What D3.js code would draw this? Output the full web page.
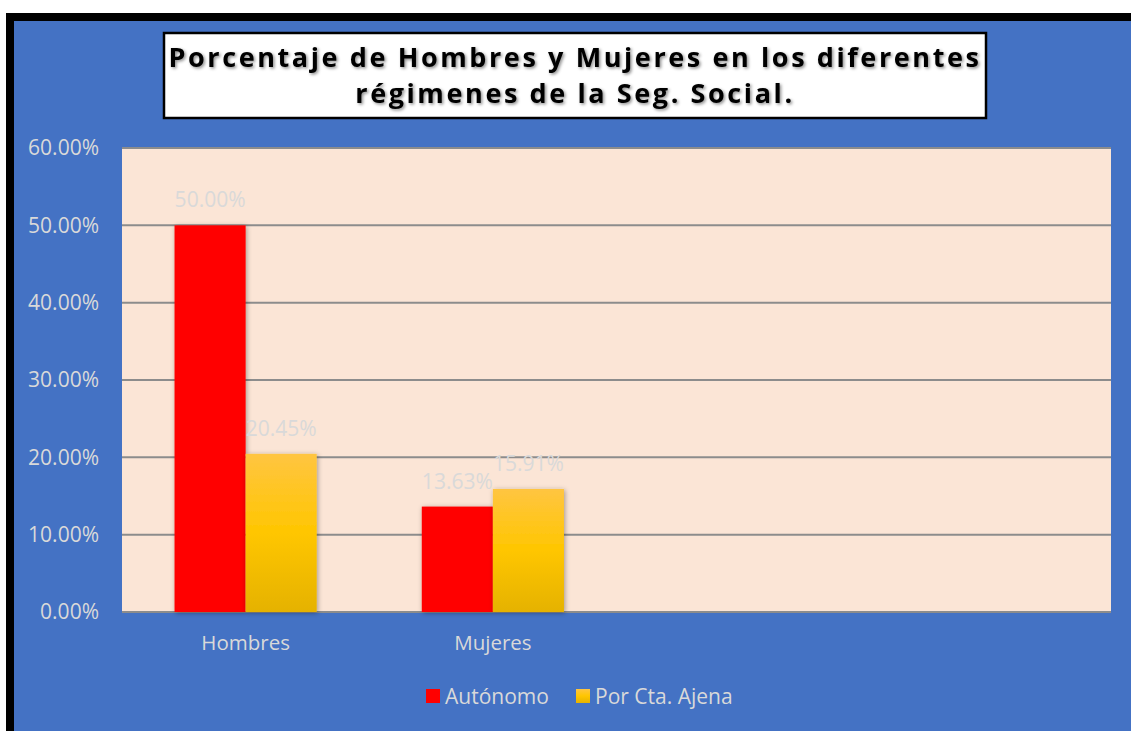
<!DOCTYPE html>
<html>
<head>
<meta charset="utf-8">
<script src="https://cdn.jsdelivr.net/npm/d3@7"></script>
<style>
  body { margin: 0; background: #fff; }
  svg { display: block; font-family: "Open Sans", sans-serif; }
</style>
</head>
<body>
<div id="chart"></div>
<script>
// data
var categories = ['Hombres', 'Mujeres', '', ' '];
var seriesNames = ['Autónomo', 'Por Cta. Ajena'];
var autonomo = [0.50, 0.1363, null, null];
var porCtaAjena = [0.2045, 0.1591, null, null];
var yTicks = [0, 0.1, 0.2, 0.3, 0.4, 0.5, 0.6];
var titleLines = ['Porcentaje de Hombres y Mujeres en los diferentes', 'régimenes de la Seg. Social.'];

var width = 1131, height = 731;
var plot = { left: 122, right: 1111, top: 148, bottom: 612 };
var textColor = '#d9d9d9';

var svg = d3.select('#chart').append('svg')
    .attr('width', width)
    .attr('height', height);

var defs = svg.append('defs');
var grad = defs.append('linearGradient')
    .attr('id', 'goldGrad')
    .attr('x1', 0).attr('y1', 0).attr('x2', 0).attr('y2', 1);
grad.append('stop').attr('offset', '0%').attr('stop-color', '#ffc541');
grad.append('stop').attr('offset', '50%').attr('stop-color', '#ffc600');
grad.append('stop').attr('offset', '100%').attr('stop-color', '#e5b200');

var shadow = defs.append('filter').attr('id', 'barShadow')
    .attr('x', '-20%').attr('y', '-10%').attr('width', '140%').attr('height', '120%');
shadow.append('feDropShadow')
    .attr('dx', 1).attr('dy', 1).attr('stdDeviation', 2.5)
    .attr('flood-color', '#000').attr('flood-opacity', 0.35);

var titleShadow = defs.append('filter').attr('id', 'textShadow')
    .attr('x', '-5%').attr('y', '-20%').attr('width', '110%').attr('height', '140%');
titleShadow.append('feDropShadow')
    .attr('dx', 1.5).attr('dy', 1.5).attr('stdDeviation', 1.5)
    .attr('flood-color', '#000').attr('flood-opacity', 0.45);

// outer frame
svg.append('rect')
    .attr('x', 6).attr('y', 13)
    .attr('width', width - 6).attr('height', height - 13)
    .attr('fill', '#000');
svg.append('rect')
    .attr('x', 14).attr('y', 21)
    .attr('width', width - 14).attr('height', height - 21)
    .attr('fill', '#4472c4');

// title box
svg.append('rect')
    .attr('x', 164).attr('y', 33)
    .attr('width', 822).attr('height', 85)
    .attr('fill', '#fff')
    .attr('stroke', '#000')
    .attr('stroke-width', 2.5);

svg.append('g')
    .selectAll('text')
    .data(titleLines)
    .enter()
    .append('text')
    .attr('x', 575)
    .attr('y', function(d, i) { return 67 + i * 36; })
    .attr('text-anchor', 'middle')
    .attr('font-size', '27px')
    .attr('font-weight', 'bold')
    .attr('letter-spacing', '2.6px')
    .attr('fill', '#000')
    .attr('filter', 'url(#textShadow)')
    .text(function(d) { return d; });

// scales
var x0 = d3.scaleBand()
    .domain(categories)
    .range([plot.left, plot.right])
    .paddingInner(0.425)
    .paddingOuter(0.2125);

var x1 = d3.scaleBand()
    .domain(seriesNames)
    .range([0, x0.bandwidth()]);

var y = d3.scaleLinear()
    .domain([0, 0.6])
    .range([plot.bottom, plot.top]);

// plot background
svg.append('rect')
    .attr('x', plot.left).attr('y', plot.top)
    .attr('width', plot.right - plot.left)
    .attr('height', plot.bottom - plot.top)
    .attr('fill', '#fbe5d6');

// gridlines
svg.append('g')
    .selectAll('line')
    .data(yTicks)
    .enter()
    .append('line')
    .attr('x1', plot.left).attr('x2', plot.right)
    .attr('y1', function(d) { return y(d); })
    .attr('y2', function(d) { return y(d); })
    .attr('stroke', '#8c8c8c')
    .attr('stroke-width', 2);

// y axis labels
var yAxis = d3.axisLeft(y)
    .tickValues(yTicks)
    .tickSize(0)
    .tickPadding(23)
    .tickFormat(d3.format('.2%'));

var yg = svg.append('g')
    .attr('transform', 'translate(' + plot.left + ',0)')
    .call(yAxis);
yg.select('.domain').remove();
yg.selectAll('text')
    .attr('fill', textColor)
    .attr('font-size', '21px')
    .attr('font-family', '"Open Sans", sans-serif');

// x axis labels
var xAxis = d3.axisBottom(x0)
    .tickSize(0)
    .tickPadding(23);
var xg = svg.append('g')
    .attr('transform', 'translate(0,' + plot.bottom + ')')
    .call(xAxis);
xg.select('.domain').remove();
xg.selectAll('text')
    .attr('fill', textColor)
    .attr('font-size', '20.5px')
    .attr('font-family', '"Open Sans", sans-serif');

// bars
var rows = categories.map(function(c, i) {
    return { cat: c, values: [
        { name: seriesNames[0], value: autonomo[i] },
        { name: seriesNames[1], value: porCtaAjena[i] }
    ] };
});

function barFill(name) {
    return name === seriesNames[0] ? '#ff0000' : 'url(#goldGrad)';
}

var groups = svg.append('g')
    .selectAll('g')
    .data(rows)
    .enter()
    .append('g')
    .attr('transform', function(d) { return 'translate(' + x0(d.cat) + ',0)'; });

groups.selectAll('rect')
    .data(function(d) { return d.values.filter(function(v) { return v.value != null; }); })
    .enter()
    .append('rect')
    .attr('x', function(d) { return x1(d.name); })
    .attr('y', function(d) { return y(d.value); })
    .attr('width', x1.bandwidth())
    .attr('height', function(d) { return plot.bottom - y(d.value); })
    .attr('fill', function(d) { return barFill(d.name); })
    .attr('filter', 'url(#barShadow)');

// data labels
groups.selectAll('text')
    .data(function(d) { return d.values.filter(function(v) { return v.value != null; }); })
    .enter()
    .append('text')
    .attr('x', function(d) { return x1(d.name) + x1.bandwidth() / 2; })
    .attr('y', function(d) { return y(d.value) - 18; })
    .attr('text-anchor', 'middle')
    .attr('font-size', '21px')
    .attr('fill', textColor)
    .text(function(d) { return d3.format('.2%')(d.value); });

// legend
var legendItems = [
    { name: seriesNames[0], x: 426 },
    { name: seriesNames[1], x: 576 }
];
var legend = svg.append('g')
    .selectAll('g')
    .data(legendItems)
    .enter()
    .append('g')
    .attr('transform', function(d) { return 'translate(' + d.x + ',689)'; });
legend.append('rect')
    .attr('width', 14).attr('height', 14)
    .attr('fill', function(d) { return barFill(d.name); });
legend.append('text')
    .attr('x', 19).attr('y', 14.5)
    .attr('font-size', '21px')
    .attr('fill', textColor)
    .text(function(d) { return d.name; });
</script>
</body>
</html>
